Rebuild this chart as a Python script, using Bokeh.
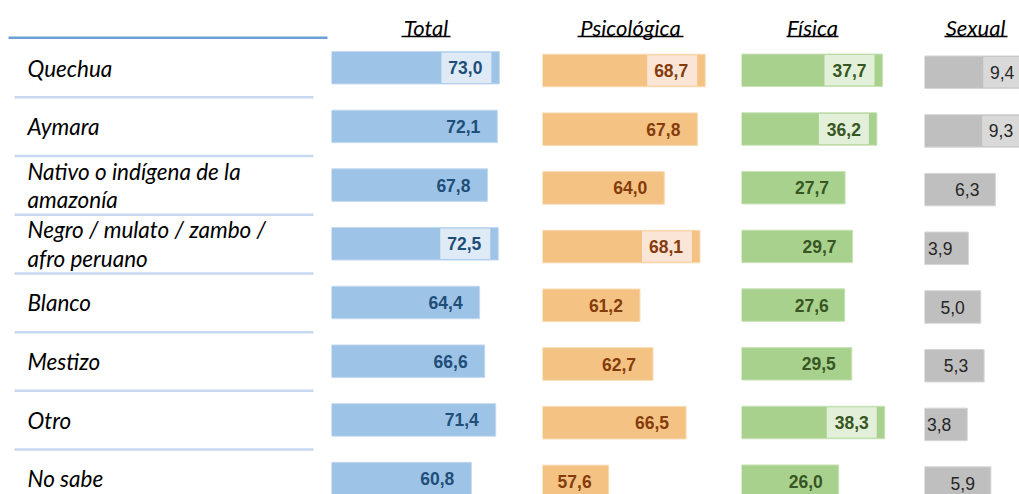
from bokeh.plotting import figure
from bokeh.layouts import row
from bokeh.models import Range1d
from bokeh.core.properties import value
from bokeh.embed import file_html
from bokeh.resources import INLINE

# ---------------- data ----------------
categories = ["Quechua", "Aymara", "Nativo o indígena de la\namazonía",
              "Negro / mulato / zambo /\nafro peruano", "Blanco", "Mestizo",
              "Otro", "No sabe"]
headers = ["Total", "Psicológica", "Física", "Sexual"]
total = [73.0, 72.1, 67.8, 72.5, 64.4, 66.6, 71.4, 60.8]
psicologica = [68.7, 67.8, 64.0, 68.1, 61.2, 62.7, 66.5, 57.6]
fisica = [37.7, 36.2, 27.7, 29.7, 27.6, 29.5, 38.3, 26.0]
sexual = [9.4, 9.3, 6.3, 3.9, 5.0, 5.3, 3.8, 5.9]
hl_total = [1, 0, 0, 1, 0, 0, 0, 0]
hl_psicologica = [1, 0, 0, 1, 0, 0, 0, 0]
hl_fisica = [1, 1, 0, 0, 0, 0, 1, 0]
hl_sexual = [1, 1, 0, 0, 0, 0, 0, 0]

H = 494
PITCH = 58.7
LABEL_FONT = "Lato"
NUM_FONT = "Liberation Sans"


def fmt(v):
    return f"{v:.1f}".replace(".", ",")


def yr(center0):
    top = -center0 / PITCH
    return Range1d(start=top + H / PITCH, end=top)


def base_fig(w, xr, yrange):
    p = figure(width=w, height=H, x_range=xr, y_range=yrange,
               output_backend="svg", toolbar_location=None,
               x_axis_location=None, y_axis_location=None,
               min_border=0, outline_line_color=None)
    p.xgrid.visible = False
    p.ygrid.visible = False
    p.background_fill_color = "white"
    p.border_fill_color = "white"
    return p


# ---------------- label column ----------------
C0 = 67.5
f0 = base_fig(331, Range1d(0, 331), yr(C0))
idx = list(range(len(categories)))
f0.text(x=[27] * len(categories), y=idx, text=categories,
        text_font=value(LABEL_FONT), text_font_style="italic",
        text_font_size="22.5px", text_baseline="middle", text_align="left",
        text_color="#000000", text_line_height=1.06)
sep_y = [i + 0.5 for i in idx[:-1]]
f0.segment(x0=[14] * len(sep_y), x1=[313] * len(sep_y), y0=sep_y, y1=sep_y,
           line_color="#c6d9f0", line_width=2.5)
hy = (37.3 - C0) / PITCH
f0.segment(x0=[8], x1=[327], y0=[hy], y1=[hy], line_color="#6d9fd8", line_width=2.5)

# ---------------- panels ----------------
panels = [
    dict(vals=total, hl=hl_total, head=headers[0], w=211, x0=0, ppu=2.30, c0=67.2,
         bar="#9dc3e6", edge="#c3d9f0", hbox="#deebf7", tcol="#1f4e79",
         hc=94.5, ul=(70, 119), bold=True, box=(58, 8), off=-17),
    dict(vals=psicologica, hl=hl_psicologica, head=headers[1], w=199, x0=50, ppu=8.70, c0=70.0,
         bar="#f4c383", edge="#f8d9b0", hbox="#fbe5d6", tcol="#843c0c",
         hc=88, ul=(35, 141), bold=True, box=(58, 8), off=-17),
    dict(vals=fisica, hl=hl_fisica, head=headers[2], w=183, x0=0, ppu=3.74, c0=69.8,
         bar="#a9d18e", edge="#c9e3b8", hbox="#e2f0d9", tcol="#375623",
         hc=71, ul=(45, 97), bold=True, box=(58, 8), off=-16),
    dict(vals=sexual, hl=hl_sexual, head=headers[3], w=95, x0=0, ppu=11.25, c0=71.7,
         bar="#bfbfbf", edge="#d6d6d6", hbox="#d9d9d9", tcol="#262626",
         hc=51, ul=(20, 83), bold=False, box=(47, 7), off=-16),
]

figs = [f0]
for pn in panels:
    w, x0, ppu, c0 = pn["w"], pn["x0"], pn["ppu"], pn["c0"]
    xr = Range1d(x0, x0 + w / ppu)
    p = base_fig(w, xr, yr(c0))
    vals = pn["vals"]
    n = len(vals)
    bh = 32.5 / PITCH
    p.hbar(y=idx, left=[x0] * n, right=vals, height=bh,
           fill_color=pn["bar"], line_color=pn["edge"], line_width=1)
    hi = [i for i in idx if pn["hl"][i]]
    bl, br = pn["box"]
    p.hbar(y=hi, left=[vals[i] - bl / ppu for i in hi],
           right=[vals[i] - br / ppu for i in hi], height=bh - 2 / PITCH,
           fill_color=pn["hbox"], line_color=None)
    p.text(x=vals, y=idx, text=[fmt(v) for v in vals], x_offset=pn["off"],
           text_align="right", text_baseline="middle",
           text_font=value(NUM_FONT),
           text_font_style="bold" if pn["bold"] else "normal",
           text_font_size="17.5px", text_color=pn["tcol"])

    def px2x(px):
        return x0 + px / ppu

    def py2y(py):
        return (py - c0) / PITCH

    p.text(x=[px2x(pn["hc"])], y=[py2y(27)], text=[pn["head"]],
           text_font=value(LABEL_FONT), text_font_style="italic",
           text_font_size="22px", text_align="center", text_baseline="middle",
           text_color="#000000")
    p.segment(x0=[px2x(pn["ul"][0])], x1=[px2x(pn["ul"][1])],
              y0=[py2y(36)], y1=[py2y(36)], line_color="#000000", line_width=1.3)
    figs.append(p)

layout = row(*figs, spacing=0)
open("out.html", "w").write(file_html(layout, INLINE))
